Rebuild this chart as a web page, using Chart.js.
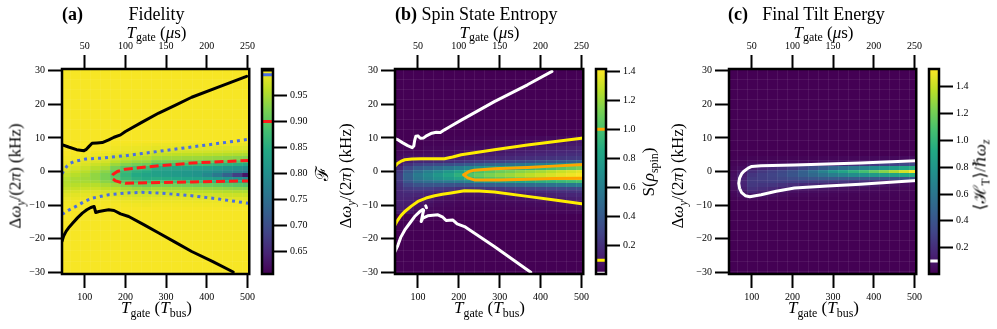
<!DOCTYPE html>
<html><head><meta charset="utf-8">
<script src="https://cdn.jsdelivr.net/npm/chart.js@4.4.1/dist/chart.umd.min.js"></script>
<style>
html,body{margin:0;padding:0;background:#fff}
#wrap{position:relative;width:997px;height:329px;overflow:hidden;font-family:"Liberation Serif","DejaVu Serif",serif;color:#000}
canvas{position:absolute;top:0}
.t{position:absolute;white-space:nowrap;line-height:1}
.c{transform:translateX(-50%)}
.r{transform:translate(-50%,-50%) rotate(-90deg)}
.ttl{font-size:18px;top:5px}
.ax{font-size:17px}
.s{font-size:0.7em;position:relative;top:0.3em}
</style></head>
<body><div id="wrap">
<canvas id="mainA" width="258" height="329" style="left:0px"></canvas>
<canvas id="barA" width="74" height="329" style="left:256px"></canvas>
<canvas id="mainB" width="262" height="329" style="left:330px"></canvas>
<canvas id="barB" width="70" height="329" style="left:590px"></canvas>
<canvas id="mainC" width="265" height="329" style="left:660px"></canvas>
<canvas id="barC" width="74" height="329" style="left:923px"></canvas>

<div class="t ttl" style="left:62px"><b>(a)</b></div>
<div class="t ttl c" style="left:156.5px">Fidelity</div>
<div class="t ax c" style="left:156.5px;top:23.5px"><i>T</i><span class="s">gate</span> (<i>μ</i>s)</div>
<div class="t ax c" style="left:156.5px;top:299px"><i>T</i><span class="s">gate</span> (<i>T</i><span class="s">bus</span>)</div>
<div class="t ax r" style="left:15px;top:176px">Δ<i>ω</i><span class="s"><i>y</i></span>/(2<i>π</i>) (kHz)</div>
<div class="t ax r" style="left:322px;top:173px;font-size:18px">ℱ</div>

<div class="t ttl" style="left:395px"><b>(b)</b></div>
<div class="t ttl c" style="left:489.5px">Spin State Entropy</div>
<div class="t ax c" style="left:489.5px;top:23.5px"><i>T</i><span class="s">gate</span> (<i>μ</i>s)</div>
<div class="t ax c" style="left:489.5px;top:299px"><i>T</i><span class="s">gate</span> (<i>T</i><span class="s">bus</span>)</div>
<div class="t ax r" style="left:345px;top:176px">Δ<i>ω</i><span class="s"><i>y</i></span>/(2<i>π</i>) (kHz)</div>
<div class="t ax r" style="left:648px;top:172px">S(<i>ρ</i><span class="s">spin</span>)</div>

<div class="t ttl" style="left:728px"><b>(c)</b></div>
<div class="t ttl c" style="left:823.5px">Final Tilt Energy</div>
<div class="t ax c" style="left:823.5px;top:23.5px"><i>T</i><span class="s">gate</span> (<i>μ</i>s)</div>
<div class="t ax c" style="left:823.5px;top:299px"><i>T</i><span class="s">gate</span> (<i>T</i><span class="s">bus</span>)</div>
<div class="t ax r" style="left:677px;top:176px">Δ<i>ω</i><span class="s"><i>y</i></span>/(2<i>π</i>) (kHz)</div>
<div class="t ax r" style="left:980px;top:175px">⟨ℋ<span class="s">T</span>⟩/ℏ<i>ω</i><span class="s"><i>z</i></span></div>
</div>
<script>
// ---------- data ----------
const gateCols = [50,75,100,125,150,175,200,225,250,275,300,325,350,375,400,425,450,475,500];
const gateStep = 25;
const bottomTicks = [100,200,300,400,500];
const topTicks = [50,100,150,200,250];
const detuningTicks = [-30,-20,-10,0,10,20,30];
const fidelityBarTicks = [0.65,0.70,0.75,0.80,0.85,0.90,0.95];
const entropyBarTicks = [0.2,0.4,0.6,0.8,1.0,1.2,1.4];
const tiltBarTicks = [0.2,0.4,0.6,0.8,1.0,1.2,1.4];

const fidelityRows = [8,7,6,5,4,3,2,1,0,-1,-2,-3,-4,-5,-6,-7,-8,-9,-10];
const fidelityBackground = 0.997;
const fidelityByColumn = [
 [0.999,0.999,0.998,0.997,0.995,0.993,0.989,0.983,0.976,0.966,0.958,0.955,0.958,0.966,0.976,0.983,0.989,0.993,0.995],
 [0.999,0.998,0.998,0.996,0.994,0.990,0.985,0.978,0.968,0.958,0.951,0.951,0.958,0.968,0.978,0.985,0.990,0.994,0.996],
 [0.999,0.998,0.996,0.995,0.991,0.986,0.980,0.970,0.959,0.949,0.945,0.949,0.959,0.970,0.980,0.986,0.991,0.995,0.996],
 [0.998,0.997,0.995,0.992,0.987,0.981,0.971,0.958,0.945,0.936,0.936,0.945,0.958,0.971,0.981,0.987,0.992,0.995,0.997],
 [0.998,0.996,0.994,0.990,0.984,0.976,0.964,0.949,0.932,0.922,0.922,0.932,0.949,0.964,0.976,0.984,0.990,0.994,0.996],
 [0.996,0.993,0.990,0.983,0.974,0.961,0.943,0.921,0.902,0.895,0.902,0.921,0.943,0.961,0.974,0.983,0.990,0.993,0.996],
 [0.995,0.991,0.987,0.978,0.966,0.950,0.927,0.899,0.874,0.865,0.874,0.899,0.927,0.950,0.966,0.978,0.987,0.991,0.995],
 [0.994,0.990,0.985,0.975,0.961,0.943,0.916,0.884,0.856,0.845,0.856,0.884,0.916,0.943,0.961,0.975,0.985,0.990,0.994],
 [0.993,0.989,0.984,0.974,0.959,0.939,0.911,0.876,0.847,0.835,0.847,0.876,0.911,0.939,0.959,0.974,0.984,0.989,0.993],
 [0.991,0.986,0.977,0.965,0.948,0.921,0.888,0.851,0.829,0.829,0.851,0.888,0.921,0.948,0.965,0.977,0.986,0.991,0.995],
 [0.991,0.986,0.977,0.964,0.946,0.919,0.885,0.847,0.824,0.824,0.847,0.885,0.919,0.946,0.964,0.977,0.986,0.991,0.995],
 [0.991,0.985,0.976,0.963,0.945,0.917,0.882,0.843,0.819,0.819,0.843,0.882,0.917,0.945,0.963,0.976,0.985,0.991,0.995],
 [0.991,0.985,0.975,0.962,0.943,0.915,0.878,0.839,0.814,0.814,0.839,0.878,0.915,0.943,0.962,0.975,0.985,0.991,0.994],
 [0.990,0.984,0.975,0.961,0.942,0.912,0.875,0.834,0.809,0.809,0.834,0.875,0.912,0.942,0.961,0.975,0.984,0.990,0.994],
 [0.990,0.984,0.974,0.960,0.940,0.910,0.872,0.830,0.804,0.790,0.830,0.872,0.910,0.940,0.960,0.974,0.984,0.990,0.994],
 [0.990,0.983,0.973,0.958,0.937,0.906,0.866,0.822,0.794,0.765,0.822,0.866,0.906,0.937,0.958,0.973,0.983,0.990,0.994],
 [0.989,0.982,0.971,0.956,0.934,0.901,0.859,0.813,0.784,0.730,0.813,0.859,0.901,0.934,0.956,0.971,0.982,0.989,0.993],
 [0.989,0.982,0.970,0.954,0.931,0.897,0.853,0.805,0.775,0.680,0.805,0.853,0.897,0.931,0.954,0.970,0.982,0.989,0.993],
 [0.988,0.981,0.969,0.952,0.928,0.892,0.846,0.796,0.765,0.630,0.796,0.846,0.892,0.928,0.952,0.969,0.981,0.988,0.993]
];

const entropyRows = [10,9,8,7,6,5,4,3,2,1,0,-1,-2,-3,-4,-5,-6,-7,-8,-9,-10,-11,-12];
const entropyBackground = 0.006;
const entropyByColumn = [
 [0.006,0.01,0.015,0.02,0.03,0.04,0.05,0.07,0.1,0.16,0.23,0.26,0.26,0.23,0.2,0.18,0.16,0.15,0.14,0.13,0.12,0.11,0.1],
 [0.005,0.007,0.01,0.02,0.035,0.055,0.08,0.12,0.2,0.3,0.4,0.45,0.44,0.38,0.3,0.24,0.19,0.16,0.14,0.12,0.11,0.1,0.09],
 [0.004,0.006,0.008,0.012,0.03,0.05,0.085,0.15,0.26,0.4,0.52,0.58,0.56,0.48,0.36,0.26,0.19,0.15,0.12,0.1,0.08,0.06,0.045],
 [0.008,0.012,0.018,0.028,0.04,0.06,0.09,0.16,0.29,0.45,0.6,0.66,0.63,0.52,0.38,0.26,0.18,0.14,0.105,0.08,0.06,0.04,0.025],
 [0.008,0.012,0.018,0.028,0.04,0.06,0.09,0.17,0.32,0.5,0.67,0.74,0.7,0.56,0.38,0.24,0.15,0.1,0.075,0.055,0.04,0.03,0.02],
 [0.01,0.015,0.022,0.032,0.045,0.065,0.1,0.18,0.34,0.55,0.74,0.82,0.76,0.58,0.37,0.22,0.13,0.085,0.06,0.045,0.033,0.025,0.018],
 [0.012,0.018,0.026,0.038,0.055,0.08,0.12,0.2,0.37,0.6,0.82,0.9,0.82,0.6,0.36,0.2,0.095,0.065,0.045,0.033,0.025,0.018,0.013],
 [0.014,0.02,0.03,0.045,0.065,0.09,0.13,0.22,0.4,0.66,0.92,1.02,0.92,0.64,0.37,0.2,0.1,0.066,0.046,0.034,0.025,0.018,0.013],
 [0.016,0.023,0.034,0.05,0.07,0.095,0.14,0.24,0.44,0.72,1.0,1.08,1.0,0.7,0.4,0.21,0.105,0.07,0.048,0.035,0.026,0.019,0.014],
 [0.018,0.026,0.038,0.055,0.08,0.1,0.15,0.26,0.47,0.77,1.05,1.13,1.04,0.74,0.42,0.22,0.11,0.075,0.052,0.038,0.028,0.02,0.015],
 [0.02,0.03,0.042,0.062,0.09,0.115,0.16,0.28,0.5,0.8,1.09,1.17,1.07,0.77,0.44,0.23,0.115,0.08,0.055,0.04,0.03,0.022,0.016],
 [0.023,0.034,0.048,0.07,0.1,0.125,0.17,0.3,0.53,0.84,1.12,1.2,1.1,0.8,0.46,0.25,0.13,0.088,0.06,0.044,0.032,0.023,0.017],
 [0.026,0.038,0.055,0.08,0.11,0.135,0.18,0.32,0.56,0.88,1.16,1.24,1.14,0.83,0.48,0.26,0.15,0.1,0.068,0.048,0.035,0.025,0.018],
 [0.03,0.044,0.063,0.09,0.12,0.145,0.19,0.34,0.59,0.92,1.19,1.27,1.17,0.86,0.5,0.27,0.16,0.11,0.075,0.052,0.038,0.027,0.02],
 [0.035,0.05,0.072,0.1,0.13,0.155,0.2,0.36,0.62,0.96,1.22,1.3,1.2,0.89,0.52,0.28,0.17,0.12,0.09,0.06,0.042,0.03,0.022],
 [0.04,0.058,0.082,0.11,0.14,0.165,0.21,0.38,0.65,1.0,1.26,1.33,1.23,0.92,0.54,0.29,0.18,0.13,0.1,0.07,0.048,0.034,0.024],
 [0.047,0.068,0.092,0.12,0.15,0.175,0.22,0.4,0.68,1.04,1.3,1.36,1.26,0.95,0.56,0.3,0.19,0.14,0.11,0.08,0.055,0.038,0.027],
 [0.055,0.08,0.1,0.13,0.16,0.185,0.23,0.42,0.72,1.08,1.33,1.38,1.29,0.98,0.58,0.31,0.2,0.15,0.12,0.09,0.062,0.043,0.03],
 [0.065,0.09,0.11,0.14,0.17,0.195,0.24,0.44,0.75,1.12,1.36,1.4,1.32,1.0,0.6,0.32,0.21,0.16,0.13,0.1,0.07,0.048,0.034]
];

const tiltRows = [4,3,2,1,0,-1,-2,-3,-4,-5,-6,-7,-8];
const tiltBackground = 0.005;
const tiltByColumn = [
 [0.01,0.012,0.02,0.03,0.045,0.06,0.07,0.075,0.07,0.06,0.045,0.03,0.02],
 [0.012,0.015,0.025,0.05,0.09,0.13,0.15,0.16,0.15,0.13,0.1,0.06,0.035],
 [0.02,0.03,0.06,0.12,0.2,0.24,0.26,0.26,0.25,0.22,0.17,0.1,0.05],
 [0.02,0.03,0.07,0.15,0.25,0.28,0.28,0.27,0.24,0.2,0.14,0.08,0.04],
 [0.02,0.03,0.08,0.18,0.29,0.31,0.3,0.28,0.24,0.18,0.11,0.06,0.03],
 [0.02,0.035,0.08,0.21,0.33,0.35,0.32,0.28,0.22,0.15,0.085,0.045,0.025],
 [0.02,0.04,0.09,0.25,0.39,0.4,0.35,0.28,0.2,0.12,0.07,0.035,0.02],
 [0.02,0.04,0.1,0.3,0.47,0.46,0.38,0.28,0.18,0.11,0.06,0.03,0.02],
 [0.02,0.045,0.12,0.36,0.56,0.52,0.4,0.27,0.17,0.1,0.055,0.03,0.02],
 [0.025,0.05,0.14,0.42,0.67,0.58,0.42,0.26,0.16,0.09,0.05,0.03,0.02],
 [0.025,0.055,0.16,0.5,0.8,0.64,0.43,0.25,0.15,0.085,0.045,0.025,0.018],
 [0.03,0.06,0.18,0.56,0.89,0.69,0.43,0.24,0.14,0.08,0.04,0.022,0.016],
 [0.03,0.065,0.2,0.62,0.98,0.74,0.43,0.22,0.13,0.07,0.035,0.02,0.015],
 [0.035,0.07,0.23,0.68,1.07,0.78,0.42,0.2,0.12,0.06,0.03,0.02,0.015],
 [0.035,0.08,0.25,0.73,1.16,0.82,0.41,0.18,0.1,0.05,0.03,0.02,0.015],
 [0.04,0.09,0.28,0.79,1.25,0.86,0.4,0.15,0.08,0.04,0.025,0.018,0.014],
 [0.04,0.1,0.3,0.84,1.34,0.89,0.39,0.13,0.06,0.035,0.022,0.016,0.013],
 [0.045,0.11,0.33,0.9,1.43,0.92,0.38,0.11,0.05,0.03,0.02,0.015,0.012],
 [0.05,0.12,0.35,0.95,1.52,0.95,0.38,0.09,0.04,0.025,0.02,0.015,0.012]
];

// contour lines: [T_gate (T_bus), detuning (kHz)]
const fidBlackUpper = [[44,8.0],[60,7.3],[80,6.5],[98,6.2],[104,6.6],[110,7.4],[118,8.4],[130,8.5],[143,8.6],[159,9.4],[172,10.2],[188,10.9],[200,11.9],[240,14.6],[282,17.4],[322,19.7],[363,22.1],[430,25.2],[498,28.3]];
const fidBlackLower = [[44,-20.8],[48,-19.2],[54,-17.8],[62,-16.5],[70,-15.4],[82,-13.8],[94,-12.4],[105,-11.4],[115,-10.7],[123,-10.4],[127,-12.2],[135,-11.9],[148,-11.6],[159,-11.4],[172,-11.6],[188,-12.6],[208,-13.4],[245,-15.8],[282,-18.3],[322,-21.0],[363,-23.8],[415,-26.8],[465,-29.9]];
const fidBlueUpper = [[44,-0.7],[50,0.6],[57,1.7],[65,2.5],[74,3.0],[102,3.7],[143,4.0],[200,4.7],[282,6.0],[363,7.3],[425,8.3],[505,9.6]];
const fidBlueLower = [[44,-12.7],[49,-12.4],[62,-11.4],[78,-10.4],[98,-9.0],[119,-7.9],[159,-6.9],[200,-6.4],[241,-6.2],[282,-6.4],[363,-7.2],[430,-8.2],[505,-9.5]];
const fidRedLoop = [[505,3.3],[430,2.9],[363,2.5],[282,1.7],[225,1.0],[200,0.7],[180,0.0],[170,-0.8],[167,-1.5],[169,-2.2],[176,-2.8],[190,-3.3],[200,-3.5],[282,-3.3],[363,-3.1],[430,-2.95],[505,-2.8]];

const entWhiteUpper = [[44,9.8],[50,9.5],[62,8.6],[75,7.7],[86,7.1],[90,7.6],[92,9.2],[95,10.5],[100,10.6],[106,9.9],[114,10.0],[122,10.7],[134,11.4],[145,11.7],[155,11.6],[165,12.4],[178,13.3],[206,15.3],[287,20.8],[368,25.8],[428,29.8]];
const entWhiteLower = [[44,-23.8],[50,-22.3],[58,-19.6],[68,-17.4],[80,-15.4],[92,-13.4],[104,-12.0],[112,-11.3],[114,-11.5],[111,-13.2],[108,-14.9],[112,-13.9],[124,-13.2],[149,-12.9],[161,-13.6],[169,-14.6],[185,-14.4],[196,-15.6],[214,-16.4],[287,-22.3],[376,-30.0]];
const entWhiteDot = [[119,-10.2],[121,-10.8]];
const entYellowUpper = [[44,1.6],[50,2.4],[58,3.0],[68,3.5],[85,3.7],[108,3.8],[165,3.8],[185,4.3],[206,5.0],[287,6.5],[368,7.9],[505,10.0]];
const entYellowLower = [[44,-15.9],[50,-14.6],[58,-13.2],[68,-11.9],[84,-10.3],[100,-8.9],[120,-7.9],[141,-7.2],[160,-6.8],[181,-6.4],[214,-5.7],[250,-5.8],[287,-6.1],[368,-7.4],[430,-8.4],[505,-9.7]];
const entOrangeLoop = [[505,2.1],[430,1.6],[368,1.2],[287,0.8],[238,0.4],[225,0.0],[212,-1.0],[222,-1.9],[238,-2.5],[300,-2.5],[368,-2.3],[430,-2.1],[505,-2.0]];

const tiltWhiteLoop = [[505,3.2],[367,2.5],[205,1.9],[123,1.7],[100,1.5],[91,1.0],[80,0.0],[75,-0.7],[70,-2.0],[68,-3.5],[70,-5.0],[75,-6.3],[84,-7.2],[95,-7.5],[123,-6.9],[160,-5.9],[205,-4.9],[286,-4.3],[367,-3.8],[505,-2.7]];

// ---------- drawing ----------
const SERIF = '"Liberation Serif","DejaVu Serif",serif';
const VIRIDIS = [[68,1,84],[72,36,117],[65,68,135],[53,95,141],[42,120,142],[33,145,140],[34,168,132],[68,191,112],[122,209,81],[189,223,38],[253,231,37]];
function cmap(v, vmin, vmax) {
  let t = (v - vmin) / (vmax - vmin); t = Math.max(0, Math.min(1, t));
  const p = t * 10, i = Math.min(9, Math.floor(p)), f = p - i;
  const a = VIRIDIS[i], b = VIRIDIS[i + 1];
  return 'rgb(' + [0,1,2].map(k => Math.round(a[k] + (b[k] - a[k]) * f)).join(',') + ')';
}
function minusFmt(v) { return v < 0 ? '\u2212' + Math.abs(v) : String(v); }
function tickGrid() { return {display:true, drawOnChartArea:false, drawTicks:true, tickLength:14, tickWidth:2, tickColor:'#000', color:'rgba(0,0,0,0)'}; }
function tickFont() { return {color:'#000', font:{family:SERIF, size:10}, padding:3, maxRotation:0, minRotation:0, autoSkip:false}; }
function line(pts, color, dash, width) {
  return {data: pts.map(p => ({x:p[0], y:p[1]})), showLine:true, borderColor:color, borderWidth:width || 3,
    borderDash: dash || [], pointRadius:0, fill:false, tension:0,
    borderCapStyle: dash ? 'butt' : 'round', borderJoinStyle:'round'};
}
const framePlugin = {id:'frame', afterDraw(chart) {
  const {ctx, chartArea:a} = chart; ctx.save(); ctx.strokeStyle = '#000'; ctx.lineWidth = 2.5;
  ctx.strokeRect(a.left, a.top, a.right - a.left, a.bottom - a.top); ctx.restore(); }};

function mainChart(id, o) {
  const heat = {id:'heat', beforeDatasetsDraw(chart) {
    const {ctx, chartArea:a, scales:{x, y}} = chart;
    ctx.save(); ctx.beginPath(); ctx.rect(a.left, a.top, a.right - a.left, a.bottom - a.top); ctx.clip();
    ctx.fillStyle = cmap(o.bg, o.vmin, o.vmax); ctx.fillRect(a.left, a.top, a.right - a.left, a.bottom - a.top);
    gateCols.forEach((T, i) => {
      const x0 = Math.round(x.getPixelForValue(T - gateStep / 2)), x1 = Math.round(x.getPixelForValue(T + gateStep / 2));
      o.rows.forEach((r, j) => {
        const y0 = Math.round(y.getPixelForValue(r + 0.5)), y1 = Math.round(y.getPixelForValue(r - 0.5));
        ctx.fillStyle = cmap(o.grid[i][j], o.vmin, o.vmax);
        ctx.fillRect(x0, y0, x1 - x0, y1 - y0);
      });
    });
    // faint mesh edges, as the rendered mesh shows
    ctx.strokeStyle = 'rgba(255,255,255,' + o.mesh + ')'; ctx.lineWidth = 1;
    gateCols.forEach(T => {
      const px = Math.round(x.getPixelForValue(T - gateStep / 2)) + 0.5;
      ctx.beginPath(); ctx.moveTo(px, a.top); ctx.lineTo(px, a.bottom); ctx.stroke();
    });
    for (let r = -30; r <= 30; r += 3) {
      const py = Math.round(y.getPixelForValue(r + 0.5)) + 0.5;
      ctx.beginPath(); ctx.moveTo(a.left, py); ctx.lineTo(a.right, py); ctx.stroke();
    }
    ctx.restore(); }};
  return new Chart(document.getElementById(id), {
    type:'scatter',
    data:{datasets:o.lines},
    options:{responsive:false, animation:false, events:[],
      plugins:{legend:{display:false}, tooltip:{enabled:false}},
      layout:{padding:{left:0, top:0, right:o.padRight, bottom:0}},
      scales:{
        x:{type:'linear', position:'bottom', min:44, max:504.5,
          afterBuildTicks: s => { s.ticks = bottomTicks.map(v => ({value:v})); },
          afterFit: s => { s.height = 55; },
          grid:tickGrid(), border:{display:false}, ticks:Object.assign(tickFont(), {callback: v => String(v)})},
        xTop:{type:'linear', axis:'x', position:'top', min:22, max:252.25,
          afterBuildTicks: s => { s.ticks = topTicks.map(v => ({value:v})); },
          afterFit: s => { s.height = 69; },
          grid:tickGrid(), border:{display:false}, ticks:Object.assign(tickFont(), {callback: v => String(v)})},
        y:{type:'linear', position:'left', min:-30.5, max:30.5,
          afterBuildTicks: s => { s.ticks = detuningTicks.map(v => ({value:v})); },
          afterFit: s => { s.width = o.axisW; },
          grid:tickGrid(), border:{display:false}, ticks:Object.assign(tickFont(), {callback: v => minusFmt(v)})}
      }},
    plugins:[heat, framePlugin]
  });
}

function barChart(id, o) {
  const grad = {id:'grad', beforeDatasetsDraw(chart) {
    const {ctx, chartArea:a, scales:{y}} = chart;
    const g = ctx.createLinearGradient(0, y.getPixelForValue(o.vmin), 0, y.getPixelForValue(o.vmax));
    VIRIDIS.forEach((c, i) => g.addColorStop(i / 10, 'rgb(' + c.join(',') + ')'));
    ctx.save(); ctx.fillStyle = g; ctx.fillRect(a.left, a.top, a.right - a.left, a.bottom - a.top); ctx.restore(); }};
  return new Chart(document.getElementById(id), {
    type:'scatter',
    data:{datasets:o.levels.map(l => line([[0, l[0]], [1, l[0]]], l[1], null, 3))},
    options:{responsive:false, animation:false, events:[],
      plugins:{legend:{display:false}, tooltip:{enabled:false}},
      layout:{padding:{left:o.padLeft, top:69, right:0, bottom:55}},
      scales:{
        x:{display:false, min:0, max:1},
        y:{type:'linear', position:'right', min:o.vmin, max:o.vmax,
          afterBuildTicks: s => { s.ticks = o.ticks.map(v => ({value:v})); },
          afterFit: s => { s.width = o.axisW; },
          grid:tickGrid(), border:{display:false}, ticks:Object.assign(tickFont(), {callback: v => v.toFixed(o.dec)})}
      }},
    plugins:[grad, framePlugin]
  });
}

const BLUE = '#4a6fe3', RED = '#ff1a1a', YEL = '#ffee00', ORA = '#ffa500';

mainChart('mainA', {axisW:62, padRight:7, rows:fidelityRows, grid:fidelityByColumn, bg:fidelityBackground, vmin:0.607, vmax:1.001, mesh:0.06,
  lines:[line(fidBlackUpper,'#000'), line(fidBlackLower,'#000'), line(fidBlueUpper,BLUE,[3,4]), line(fidBlueLower,BLUE,[3,4]), line(fidRedLoop,RED,[9,4])]});
barChart('barA', {padLeft:6, axisW:57, vmin:0.607, vmax:1.001, ticks:fidelityBarTicks, dec:2,
  levels:[[0.999,'#000'],[0.99,BLUE],[0.9,RED]]});

mainChart('mainB', {axisW:65, padRight:8, rows:entropyRows, grid:entropyByColumn, bg:entropyBackground, vmin:0.005, vmax:1.414, mesh:0.07,
  lines:[line(entWhiteUpper,'#fff'), line(entWhiteLower,'#fff'), line(entWhiteDot,'#fff'), line(entYellowUpper,YEL), line(entYellowLower,YEL), line(entOrangeLoop,ORA)]});
barChart('barB', {padLeft:6, axisW:54, vmin:0.005, vmax:1.414, ticks:entropyBarTicks, dec:1,
  levels:[[1.0,ORA],[0.1,YEL],[0.01,'#fff']]});

mainChart('mainC', {axisW:69, padRight:7, rows:tiltRows, grid:tiltByColumn, bg:tiltBackground, vmin:0.004, vmax:1.532, mesh:0.07,
  lines:[line(tiltWhiteLoop,'#fff')]});
barChart('barC', {padLeft:6, axisW:58, vmin:0.004, vmax:1.532, ticks:tiltBarTicks, dec:1,
  levels:[[0.1,'#fff']]});
</script>
</body></html>
